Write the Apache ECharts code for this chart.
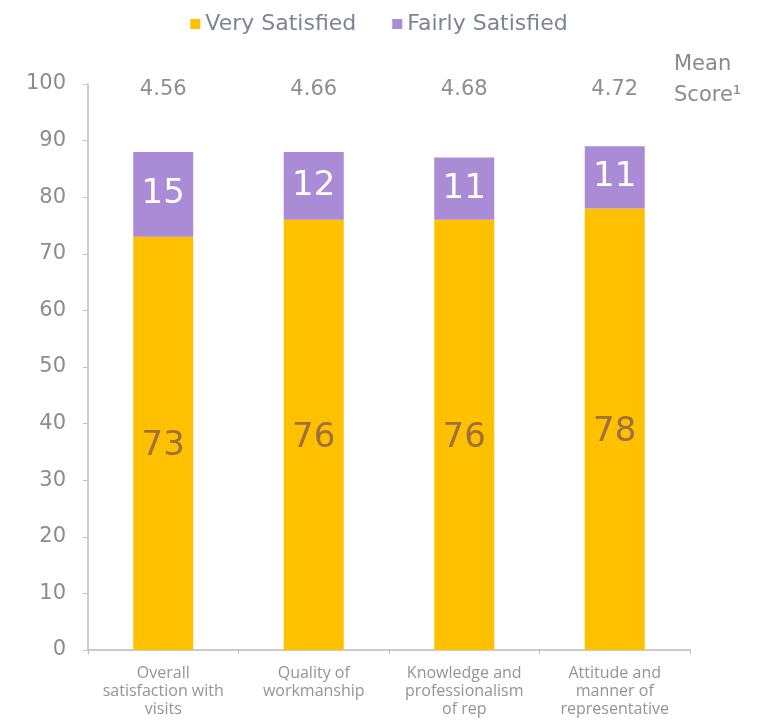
<!DOCTYPE html>
<html>
<head>
<meta charset="utf-8">
<script src="https://cdn.jsdelivr.net/npm/echarts@6/dist/echarts.min.js"></script>
<style>
  html, body { margin: 0; padding: 0; background: #ffffff; }
  #chart { width: 758px; height: 728px; }
</style>
</head>
<body>
<div id="chart"></div>
<script>
// Satisfaction with visits: stacked percentages per aspect, plus mean scores
const categories = [
  'Overall\nsatisfaction with\nvisits',
  'Quality of\nworkmanship',
  'Knowledge and\nprofessionalism\nof rep',
  'Attitude and\nmanner of\nrepresentative'
];
const verySatisfied = [73, 76, 76, 78];
const fairlySatisfied = [15, 12, 11, 11];
const meanScores = ['4.56', '4.66', '4.68', '4.72'];
const yTicks = [0, 10, 20, 30, 40, 50, 60, 70, 80, 90, 100];

const FONT = '"Open Sans", "DejaVu Sans", sans-serif';
const WIDE = '"DejaVu Sans", "Open Sans", sans-serif';

const chart = echarts.init(document.getElementById('chart'), null, { renderer: 'canvas' });

chart.setOption({
  animation: false,
  backgroundColor: '#ffffff',
  textStyle: { fontFamily: FONT },
  legend: {
    top: 8,
    left: 'center',
    itemWidth: 10,
    itemHeight: 10,
    itemGap: 36,
    icon: 'rect',
    textStyle: { fontSize: 22, color: '#7d8494', fontFamily: WIDE },
    data: ['Very Satisfied', 'Fairly Satisfied']
  },
  grid: { left: 88, right: 68, top: 84, bottom: 78, containLabel: false },
  xAxis: {
    type: 'category',
    data: categories,
    axisLine: { lineStyle: { color: '#b9b9c4', width: 1.5 } },
    axisTick: { show: true, alignWithLabel: false, length: 4, lineStyle: { color: '#b9b9c4' } },
    axisLabel: {
      color: '#949494',
      fontSize: 16,
      lineHeight: 18,
      margin: 14,
      interval: 0,
      fontFamily: FONT
    }
  },
  yAxis: {
    type: 'value',
    min: 0,
    max: 100,
    interval: 10,
    axisLine: { show: true, lineStyle: { color: '#b9b9c4', width: 1.5 } },
    axisTick: { show: true, length: 5, lineStyle: { color: '#c4c4cc' } },
    splitLine: { show: false },
    axisLabel: {
      color: '#8c8c8c',
      fontSize: 21,
      margin: 22,
      fontFamily: WIDE,
      formatter: v => (yTicks.indexOf(v) >= 0 ? String(v) : '')
    }
  },
  series: [
    {
      name: 'Very Satisfied',
      type: 'bar',
      stack: 'total',
      barWidth: 60,
      data: verySatisfied,
      itemStyle: { color: '#ffc000' },
      label: {
        show: true,
        position: 'inside',
        offset: [0, 3],
        color: '#a0703c',
        fontSize: 34,
        fontFamily: WIDE
      }
    },
    {
      name: 'Fairly Satisfied',
      type: 'bar',
      stack: 'total',
      barWidth: 60,
      data: fairlySatisfied,
      itemStyle: { color: '#a98bd6' },
      label: {
        show: true,
        position: 'inside',
        color: '#ffffff',
        fontSize: 34,
        fontFamily: WIDE
      }
    },
    {
      // Mean score row along the top of the plot
      name: 'Mean',
      type: 'scatter',
      symbolSize: 0,
      silent: true,
      data: meanScores.map(() => 100),
      label: {
        show: true,
        position: 'inside',
        offset: [0, 6],
        color: '#727272',
        fontSize: 21,
        fontFamily: WIDE,
        formatter: p => meanScores[p.dataIndex]
      }
    }
  ],
  graphic: [
    {
      type: 'text',
      left: 674,
      top: 49,
      style: {
        text: 'Mean\nScore¹',
        fill: '#8a8a8a',
        font: '21px ' + WIDE,
        lineHeight: 31
      }
    }
  ]
});
</script>
</body>
</html>
